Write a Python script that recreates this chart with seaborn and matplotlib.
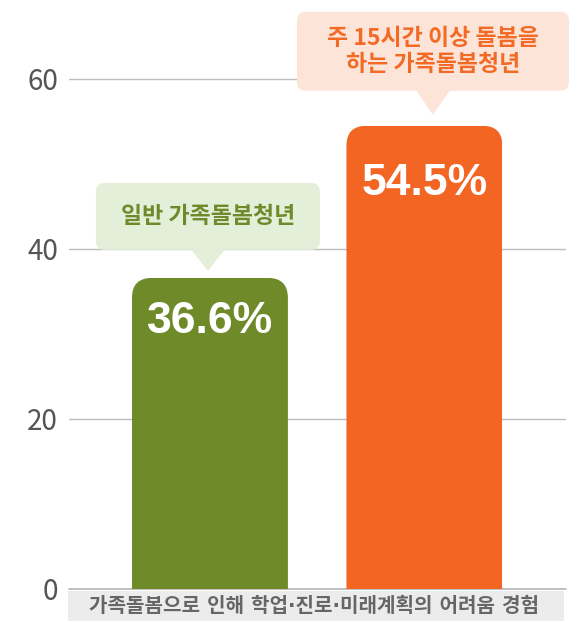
import matplotlib
matplotlib.use("Agg")
import matplotlib.pyplot as plt
import pandas as pd
import seaborn as sns
from matplotlib.patches import FancyBboxPatch, Rectangle, Polygon

# ---- data ----
groups = ["일반 가족돌봄청년", "주 15시간 이상 돌봄을\n하는 가족돌봄청년"]
shares = [36.6, 54.5]
value_labels = ["36.6%", "54.5%"]
y_ticks = [0, 20, 40, 60]
x_title = "가족돌봄으로 인해 학업·진로·미래계획의 어려움 경험"

# ---- styles ----
bar_colors = ["#6f8a29", "#f26522"]
box_colors = ["#e3efd8", "#fde4d9"]
text_colors = ["#6e8a2a", "#f26a24"]

W, H, DPI = 584, 631, 100

sns.set_theme(style="white")
plt.rcParams["font.family"] = ["Noto Sans CJK KR", "DejaVu Sans"]

fig = plt.figure(figsize=(W / DPI, H / DPI), dpi=DPI)
ax = fig.add_axes([69 / W, 42 / H, 497 / W, 578 / H])

df = pd.DataFrame({"group": groups, "share": shares})
sns.barplot(data=df, x="group", y="share", hue="group", palette=bar_colors,
            width=0.727, saturation=1, legend=False, ax=ax)

ax.set_xlim(-0.657, 1.66)
ax.set_ylim(0, 68)
ax.set_yticks(y_ticks)
ax.set_xticks([])
ax.set_xlabel("")
ax.set_ylabel("")
for s in ax.spines.values():
    s.set_visible(False)
ax.yaxis.grid(True, color="#bdbdbd", lw=1)
ax.set_axisbelow(True)
ax.axhline(0, color="#b5b5b5", lw=1.2, clip_on=False, zorder=0.5)
ax.tick_params(axis="y", length=0, pad=8, labelsize=20, labelcolor="#555555")
ax.patch.set_alpha(0)

# rounded tops for the bars (20 px corner radius)
bbox = ax.get_window_extent()
x_per_px = (ax.get_xlim()[1] - ax.get_xlim()[0]) / bbox.width
y_per_px = (ax.get_ylim()[1] - ax.get_ylim()[0]) / bbox.height
rx, ry = 20 * x_per_px, 20 * y_per_px
for p in ax.patches:
    x0, w, h = p.get_x(), p.get_width(), p.get_height()
    clip = FancyBboxPatch((x0, -h), w, 2 * h,
                          boxstyle=f"round,pad=0,rounding_size={rx}",
                          mutation_aspect=ry / rx, transform=ax.transData)
    p.set_clip_path(clip)
    p.set_edgecolor("none")

# overlay in pixel coordinates for callouts and the category caption
ov = fig.add_axes([0, 0, 1, 1], zorder=5)
ov.set_xlim(0, W)
ov.set_ylim(H, 0)
ov.axis("off")


def to_px(x, y):
    dx, dy = ax.transData.transform((x, y))
    return dx, H - dy


# callout geometry: box width, box height, gap above bar, horizontal shift, pointer height
callouts = [
    dict(bw=224, bh=67, gap=7, shift=-2, tri=21),
    dict(bw=272, bh=79, gap=11, shift=8.5, tri=24),
]
label_offsets = [43.5, 58]

for i, (val, lab, cfg) in enumerate(zip(shares, groups, callouts)):
    cx, top = to_px(i, val)
    tip_x = cx + cfg["shift"]
    tip_y = top - cfg["gap"]
    b_bottom = tip_y - cfg["tri"]
    b_top = b_bottom - cfg["bh"]
    box = FancyBboxPatch((tip_x - cfg["bw"] / 2, b_top), cfg["bw"], cfg["bh"],
                         boxstyle="round,pad=0,rounding_size=9",
                         fc=box_colors[i], ec="none")
    ov.add_patch(box)
    ov.add_patch(Polygon([(tip_x - 17, b_bottom - 0.5), (tip_x + 17, b_bottom - 0.5),
                          (tip_x, tip_y)], closed=True, fc=box_colors[i], ec="none"))
    ov.text(tip_x, (b_top + b_bottom) / 2, lab, ha="center", va="center",
            fontsize=16.5, fontweight="bold", color=text_colors[i], linespacing=1.15)
    ov.text(cx, top + label_offsets[i], value_labels[i], ha="center", va="center",
            fontsize=32, fontweight="bold", color="white",
            family=["Liberation Sans", "DejaVu Sans"])

# category caption under the baseline
ov.add_patch(Rectangle((68, 591), 496, 30, fc="#ececec", ec="none"))
ov.text(314, 606.5, x_title, ha="center", va="center", fontsize=14.5,
        fontweight="bold", color="#666666",
        family=["DejaVu Sans", "Noto Sans CJK KR"])

fig.savefig("out.png", dpi=DPI)
